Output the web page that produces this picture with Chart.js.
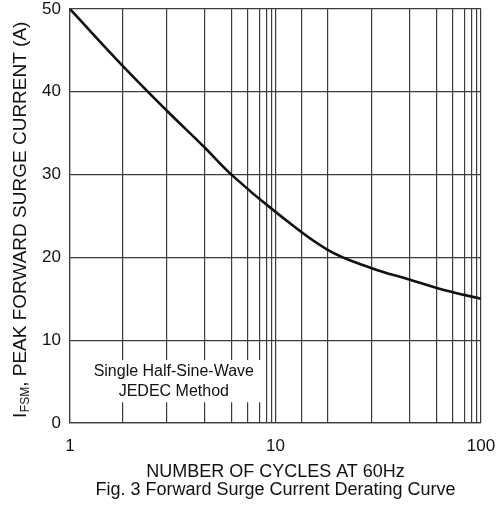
<!DOCTYPE html>
<html><head><meta charset="utf-8">
<script src="https://cdn.jsdelivr.net/npm/chart.js@4.4.1/dist/chart.umd.min.js"></script>
<style>html,body{margin:0;padding:0;background:#fff;overflow:hidden}</style>
</head><body>
<canvas id="c" width="497" height="506"></canvas>
<script>
// ---- data ----
const cycles = [1, 2, 3, 4, 5, 10, 20, 30, 40, 50, 60, 100];
const surgeCurrent = [50, 43.2, 37.8, 33.3, 30, 25.5, 20.9, 18.7, 17.3, 16.3, 15.8, 15.0];
const yTickValues = [0, 10, 20, 30, 40, 50];
const xTickLabels = [1, 10, 100];
const xTitle = ['NUMBER OF CYCLES AT 60Hz', 'Fig. 3 Forward Surge Current Derating Curve'];
const yTitleMain = 'I';
const yTitleSub = 'FSM';
const yTitleRest = ', PEAK FORWARD SURGE CURRENT (A)';
const noteLines = ['Single Half-Sine-Wave', 'JEDEC Method'];

// ---- scale: log paper as printed on the original (decade fractions of mantissas 1..10) ----
const decadeGrid = [0, 0.254, 0.468, 0.654, 0.785, 0.863, 0.922, 0.956, 0.980, 1];
function warpLog(v){
  const l = Math.log10(v);
  let d = Math.floor(l + 1e-9);
  let m = v / Math.pow(10, d);
  if (m >= 10 - 1e-9) { d += 1; m = 1; }
  const i = Math.min(Math.max(Math.floor(m), 1), 9);
  return d + decadeGrid[i-1] + (decadeGrid[i] - decadeGrid[i-1]) * (m - i);
}
function unwarpLog(w){
  const d = Math.floor(w), f = w - d;
  for (let i = 1; i <= 9; i++) {
    if (f <= decadeGrid[i]) {
      const t = (f - decadeGrid[i-1]) / (decadeGrid[i] - decadeGrid[i-1]);
      return (i + t) * Math.pow(10, d);
    }
  }
  return Math.pow(10, d + 1);
}
class WarpedLogScale extends Chart.LogarithmicScale {
  getPixelForValue(value){
    if (value === undefined || value === 0) value = this.min;
    if (value === null || isNaN(value)) return NaN;
    const a = warpLog(this.min), b = warpLog(this.max);
    return this.getPixelForDecimal((warpLog(value) - a) / (b - a));
  }
  getValueForPixel(pixel){
    const a = warpLog(this.min), b = warpLog(this.max);
    return unwarpLog(a + this.getDecimalForPixel(pixel) * (b - a));
  }
}
WarpedLogScale.id = 'warpedLog';
WarpedLogScale.defaults = Chart.LogarithmicScale.defaults;
Chart.register(WarpedLogScale);

const FONT = '"Liberation Sans", Arial, sans-serif';
const TEXT = '#111';
const GRID = '#3c3c3c';

const overlay = {
  id: 'overlay',
  beforeDatasetsDraw(chart){
    const {ctx, scales:{x, y}} = chart;
    const l = x.left + 1, r = x.getPixelForValue(7.3);
    const t = y.getPixelForValue(7.6), b = y.getPixelForValue(2.5);
    ctx.save();
    ctx.fillStyle = '#fff';
    ctx.fillRect(l, t, r - l, b - t);
    ctx.fillStyle = TEXT;
    ctx.font = '16px ' + FONT;
    ctx.textAlign = 'center';
    ctx.textBaseline = 'middle';
    const cx = x.getPixelForValue(3.2);
    ctx.fillText(noteLines[0], cx, y.getPixelForValue(6.15));
    ctx.fillText(noteLines[1], cx, y.getPixelForValue(3.85));
    ctx.restore();
  },
  afterDraw(chart){
    const {ctx, chartArea} = chart;
    ctx.save();
    ctx.translate(21, (chartArea.top + chartArea.bottom) / 2 + 4);
    ctx.rotate(-Math.PI / 2);
    ctx.fillStyle = TEXT;
    ctx.textBaseline = 'middle';
    ctx.textAlign = 'left';
    const big = '19px ' + FONT, small = '12px ' + FONT;
    ctx.font = big; const w1 = ctx.measureText(yTitleMain).width, w3 = ctx.measureText(yTitleRest).width;
    ctx.font = small; const w2 = ctx.measureText(yTitleSub).width;
    let xx = -(w1 + w2 + w3) / 2;
    ctx.font = big; ctx.fillText(yTitleMain, xx, 0); xx += w1 + 0.5;
    ctx.font = small; ctx.fillText(yTitleSub, xx, 5); xx += w2;
    ctx.font = big; ctx.fillText(yTitleRest, xx, 0);
    ctx.restore();
  }
};

new Chart(document.getElementById('c'), {
  type: 'line',
  data: {
    datasets: [{
      data: cycles.map((c, i) => ({x: c, y: surgeCurrent[i]})),
      borderColor: '#111',
      borderWidth: 2.6,
      pointRadius: 0,
      fill: false,
      tension: 0.4
    }]
  },
  options: {
    responsive: false,
    animation: false,
    devicePixelRatio: 1,
    layout: { padding: { left: 0, right: 16, top: 9, bottom: 0 } },
    plugins: { legend: { display: false }, tooltip: { enabled: false } },
    scales: {
      x: {
        type: 'warpedLog',
        min: 1, max: 100,
        grid: { color: GRID, lineWidth: 1.2, drawTicks: false },
        border: { display: true, color: GRID, width: 1.2 },
        ticks: {
          autoSkip: false, maxRotation: 0, padding: 13,
          color: TEXT, font: { family: FONT, size: 17 },
          callback: (v) => xTickLabels.some(t => Math.abs(t - v) < 1e-6) ? String(Math.round(v)) : ''
        },
        title: {
          display: true, text: xTitle, color: TEXT,
          font: { family: FONT, size: 18, lineHeight: 1.0 },
          padding: { top: 0, bottom: 7 }
        },
        afterFit(s){ s.height = 83; s.paddingLeft = 0; s.paddingRight = 0; }
      },
      y: {
        min: 0, max: 50,
        afterBuildTicks(s){ s.ticks = yTickValues.map(v => ({value: v})); },
        grid: { color: GRID, lineWidth: 1.2, drawTicks: false },
        border: { display: true, color: GRID, width: 1.2 },
        ticks: { padding: 9, color: TEXT, font: { family: FONT, size: 17 } },
        afterFit(s){ s.width = 70; s.paddingTop = 0; s.paddingBottom = 0; }
      }
    }
  },
  plugins: [overlay]
});
</script>
</body></html>
